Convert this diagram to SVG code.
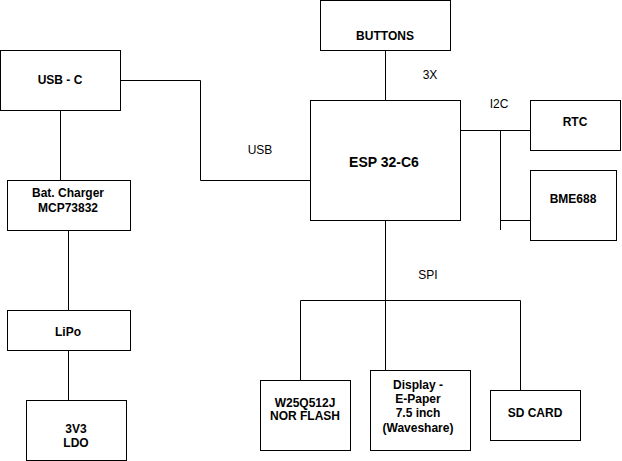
<svg xmlns="http://www.w3.org/2000/svg" width="622" height="461" viewBox="0 0 622 461">
<style>
rect{fill:#fff;stroke:#000;stroke-width:1}
.c path,.c line{fill:none;stroke:#000;stroke-width:1}
text{font-family:"Liberation Sans",Arial,sans-serif;font-size:12px;text-anchor:middle;fill:#000}
.b{font-weight:bold}
</style>
<rect x="0" y="0" width="622" height="461" style="stroke:none"/>
<g class="c" id="connectors">
<path d="M120.5,80.5 H200.5 V180.5 H310.5"/>
<path d="M60.5,110.5 V180.5"/>
<path d="M68.5,230.5 V310.5"/>
<path d="M68.5,350.5 V400.5"/>
<path d="M385.5,50.5 V100.5"/>
<path d="M460.5,130.5 H530.5"/>
<path d="M500.5,130.5 V230"/>
<path d="M500.5,220.5 H530.5"/>
<path d="M385.5,220.5 V300.5"/>
<path d="M300.5,380.5 V300.5 H520.5 V390.5"/>
<path d="M385.5,300.5 V370.5"/>
</g>
<g id="usbc"><rect x="0.5" y="50.5" width="120" height="60"/><text class="b" x="60" y="84">USB - C</text></g>
<g id="charger"><rect x="7.5" y="180.5" width="123" height="50"/><text class="b" x="68" y="197">Bat. Charger</text><text class="b" x="68" y="212">MCP73832</text></g>
<g id="lipo"><rect x="7.5" y="310.5" width="123" height="40"/><text class="b" x="68" y="336">LiPo</text></g>
<g id="ldo"><rect x="26.5" y="400.5" width="100" height="60"/><text class="b" x="76" y="433">3V3</text><text class="b" x="76" y="447">LDO</text></g>
<g id="buttons"><rect x="320.5" y="0.5" width="130" height="50"/><text class="b" x="385" y="40">BUTTONS</text></g>
<g id="esp"><rect x="310.5" y="100.5" width="150" height="120"/><text class="b" x="384" y="167" style="font-size:14px">ESP 32-C6</text></g>
<g id="rtc"><rect x="530.5" y="100.5" width="90" height="50"/><text class="b" x="575" y="126">RTC</text></g>
<g id="bme"><rect x="530.5" y="170.5" width="86" height="70"/><text class="b" x="573" y="203">BME688</text></g>
<g id="flash"><rect x="260.5" y="380.5" width="90" height="70"/><text class="b" x="305" y="407">W25Q512J</text><text class="b" x="305" y="420">NOR FLASH</text></g>
<g id="display"><rect x="370.5" y="370.5" width="100" height="80"/><text class="b" x="418" y="389">Display -</text><text class="b" x="418" y="403">E-Paper</text><text class="b" x="418" y="417">7.5 inch</text><text class="b" x="418" y="432">(Waveshare)</text></g>
<g id="sdcard"><rect x="490.5" y="390.5" width="90" height="50"/><text class="b" x="535" y="417">SD CARD</text></g>
<g id="labels">
<text x="260" y="154">USB</text>
<text x="430" y="79">3X</text>
<text x="499" y="108">I2C</text>
<text x="428" y="279">SPI</text>
</g>
</svg>
